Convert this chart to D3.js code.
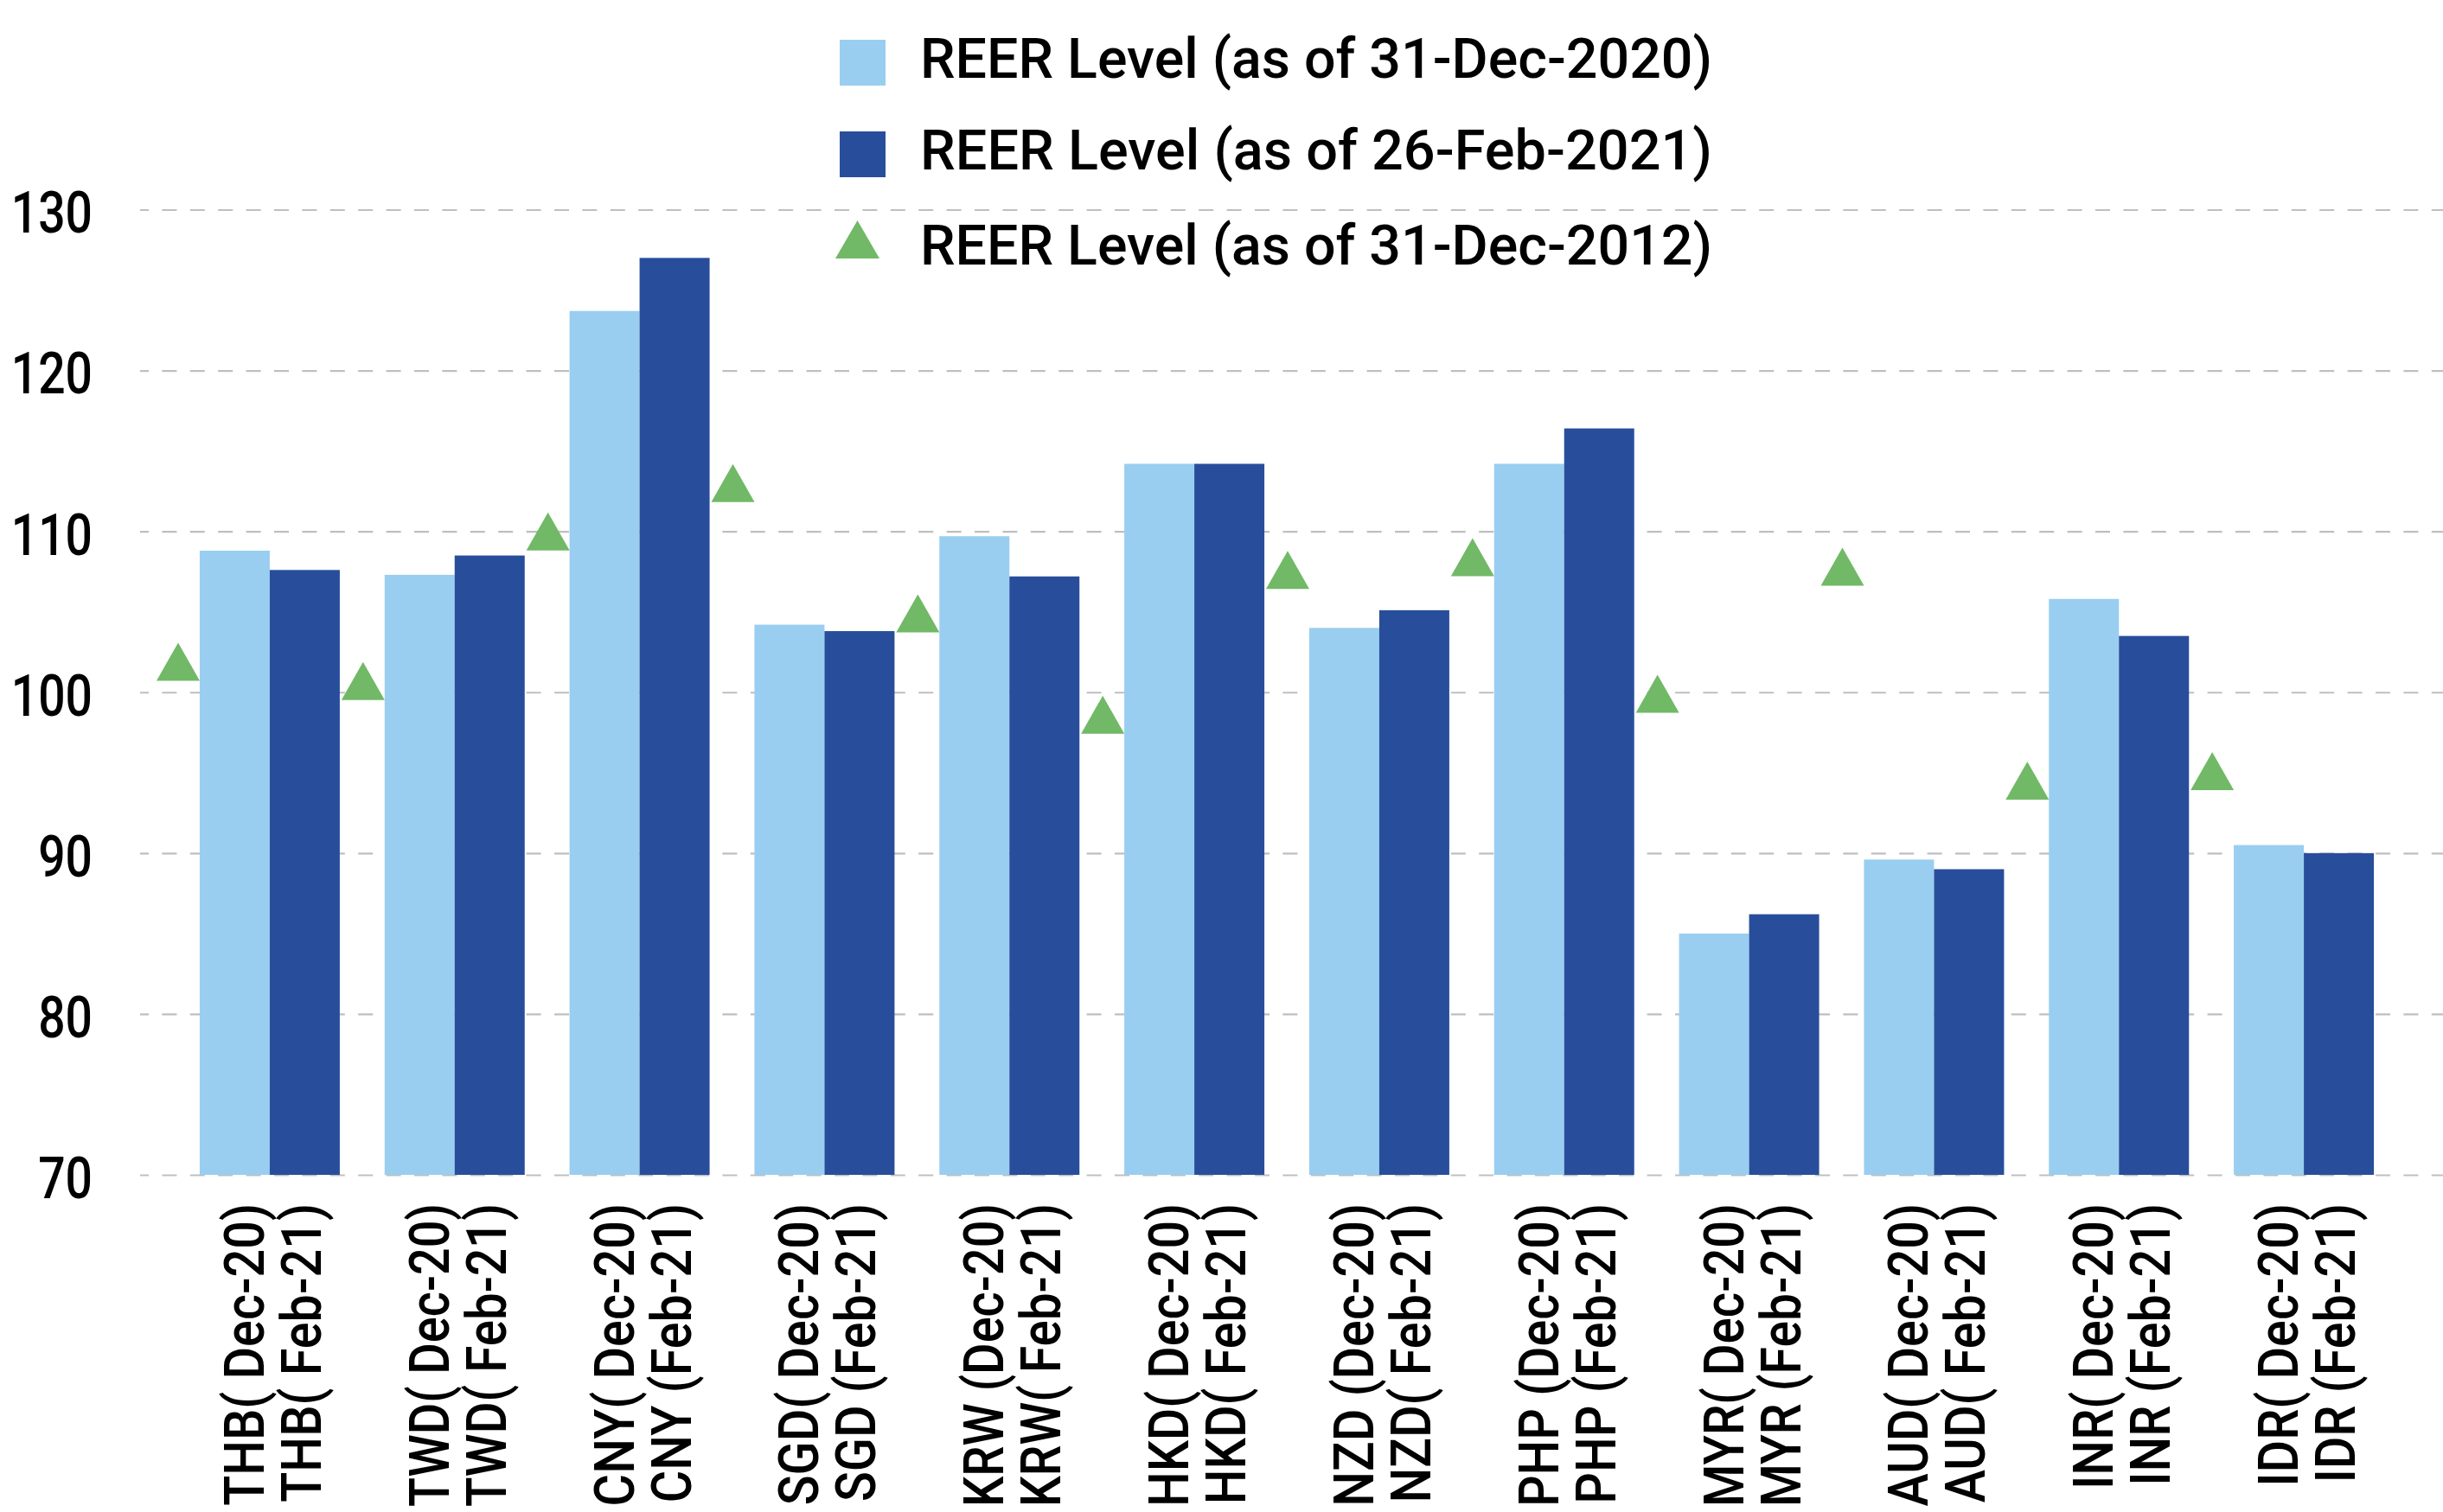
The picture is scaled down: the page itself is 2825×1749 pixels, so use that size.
<!DOCTYPE html>
<html>
<head>
<meta charset="utf-8">
<script src="https://cdn.jsdelivr.net/npm/d3@7"></script>
<style>
  body { margin: 0; background: #fff; }
  svg { display: block; }
</style>
</head>
<body>
<script>
// currencies and values
var categories = ["THB", "TWD", "CNY", "SGD", "KRW", "HKD", "NZD", "PHP", "MYR", "AUD", "INR", "IDR"];
var labelsDec = ["THB( Dec-20)", "TWD( Dec-20)", "CNY( Dec-20)", "SGD( Dec-20)", "KRW (Dec-20)", "HKD( Dec-20)",
                 "NZD (Dec-20)", "PHP (Dec-20)", "MYR( Dec-20)", "AUD( Dec-20)", "INR( Dec-20)", "IDR( Dec-20)"];
var labelsFeb = ["THB( Feb-21)", "TWD( Feb-21)", "CNY (Feb-21)", "SGD (Feb-21)", "KRW( Feb-21)", "HKD( Feb-21)",
                 "NZD( Feb-21)", "PHP (Feb-21)", "MYR (Feb-21)", "AUD( Feb-21)", "INR (Feb-21)", "IDR (Feb-21)"];
var dec20 = [108.8, 107.3, 123.7, 104.2, 109.7, 114.2, 104.0, 114.2, 85.0, 89.6, 105.8, 90.5];
var feb21 = [107.6, 108.5, 127.0, 103.8, 107.2, 114.2, 105.1, 116.4, 86.2, 89.0, 103.5, 90.0];
var dec12 = [101.9, 100.7, 110.0, 113.0, 104.9, 98.6, 107.6, 108.4, 99.9, 107.8, 94.5, 95.1];
var seriesNames = ["REER Level (as of 31-Dec-2020)", "REER Level (as of 26-Feb-2021)", "REER Level (as of 31-Dec-2012)"];
var yTicks = [70, 80, 90, 100, 110, 120, 130];

var width = 2825;
var height = 1749;
var lightBlue = "#99cef1";
var darkBlue = "#284e9b";
var green = "#71b967";
var font = "Roboto, 'Liberation Sans', sans-serif";

var svg = d3.select("body").append("svg")
            .attr("width", width)
            .attr("height", height);

var x = d3.scaleBand()
          .domain(categories)
          .range([205, 2771]);

var xSub = d3.scaleBand()
             .domain(["dec20", "feb21"])
             .range([0, x.bandwidth()])
             .paddingOuter(0.32);

var y = d3.scaleLinear()
          .domain([70, 130])
          .range([1359, 242.5]);

// dashed gridlines
var grid = svg.append("g")
              .attr("transform", "translate(162,0)")
              .call(d3.axisRight(y).tickValues(yTicks).tickSize(width - 162).tickFormat(""));
grid.select(".domain").remove();
grid.selectAll("line")
    .attr("stroke", "#bfbfbf")
    .attr("stroke-width", 2.2)
    .attr("stroke-dasharray", "17,15.4")
    .attr("stroke-dashoffset", 7);

// y axis labels
var yAxis = svg.append("g")
               .attr("transform", "translate(107,0)")
               .call(d3.axisLeft(y).tickValues(yTicks).tickSize(0).tickPadding(0));
yAxis.select(".domain").remove();
yAxis.selectAll("text")
     .attr("font-family", font)
     .attr("font-weight", 500)
     .attr("font-size", 66)
     .attr("fill", "#000")
     .attr("dy", "0.4em")
     .attr("textLength", function(d){ return String(d).length * 31.4; })
     .attr("lengthAdjust", "spacingAndGlyphs");

// bars
var rows = categories.map(function(c, i){
  return {cat: c, dec20: dec20[i], feb21: feb21[i], dec12: dec12[i]};
});

var groups = svg.selectAll(".grp")
                .data(rows)
                .enter().append("g")
                .attr("class", "grp")
                .attr("transform", function(d){ return "translate(" + x(d.cat) + ",0)"; });

groups.append("rect")
      .attr("x", xSub("dec20"))
      .attr("width", xSub.bandwidth())
      .attr("y", function(d){ return y(d.dec20); })
      .attr("height", function(d){ return y(70) - y(d.dec20); })
      .attr("fill", lightBlue);

groups.append("rect")
      .attr("x", xSub("feb21"))
      .attr("width", xSub.bandwidth())
      .attr("y", function(d){ return y(d.feb21); })
      .attr("height", function(d){ return y(70) - y(d.feb21); })
      .attr("fill", darkBlue);

// 2012 markers sit on the left edge of each band
var triW = 50, triH = 44;
function triangle(cx, cy){
  return "M" + (cx - triW / 2) + "," + (cy + triH / 2) +
         "L" + cx + "," + (cy - triH / 2) +
         "L" + (cx + triW / 2) + "," + (cy + triH / 2) + "Z";
}
svg.selectAll(".tri")
   .data(rows)
   .enter().append("path")
   .attr("class", "tri")
   .attr("d", function(d){ return triangle(x(d.cat) + 1, y(d.dec12)); })
   .attr("fill", green);

// category labels, rotated, two lines (kept inside the bottom edge)
var labelTop = 1392;
var maxLabel = height - labelTop - 6;
function addLabels(texts, offset){
  svg.selectAll(null)
     .data(rows)
     .enter().append("text")
     .attr("transform", function(d){
       return "translate(" + (x(d.cat) + x.bandwidth() / 2 + offset) + "," + labelTop + ") rotate(-90)";
     })
     .attr("text-anchor", "end")
     .attr("font-family", font)
     .attr("font-weight", 500)
     .attr("font-size", 65)
     .attr("fill", "#000")
     .text(function(d, i){ return texts[i]; })
     .each(function(){
       var len = Math.min(this.getComputedTextLength() * 0.885, maxLabel);
       d3.select(this).attr("textLength", len).attr("lengthAdjust", "spacingAndGlyphs");
     });
}
addLabels(labelsDec, -7);
addLabels(labelsFeb, 59);

// legend
var legend = svg.append("g");
var legendBase = [90, 196, 306];
var legendColors = [lightBlue, darkBlue, green];

legend.selectAll("rect")
      .data([0, 1])
      .enter().append("rect")
      .attr("x", 971)
      .attr("y", function(d){ return legendBase[d] - 44; })
      .attr("width", 53)
      .attr("height", 53)
      .attr("fill", function(d){ return legendColors[d]; });

legend.append("path")
      .attr("d", "M966,299L991.5,255L1017,299Z")
      .attr("fill", green);

legend.selectAll("text")
      .data(seriesNames)
      .enter().append("text")
      .attr("x", 1064)
      .attr("y", function(d, i){ return legendBase[i]; })
      .attr("font-family", font)
      .attr("font-weight", 500)
      .attr("font-size", 64)
      .attr("fill", "#000")
      .attr("textLength", 916)
      .attr("lengthAdjust", "spacingAndGlyphs")
      .text(function(d){ return d; });
</script>
</body>
</html>
